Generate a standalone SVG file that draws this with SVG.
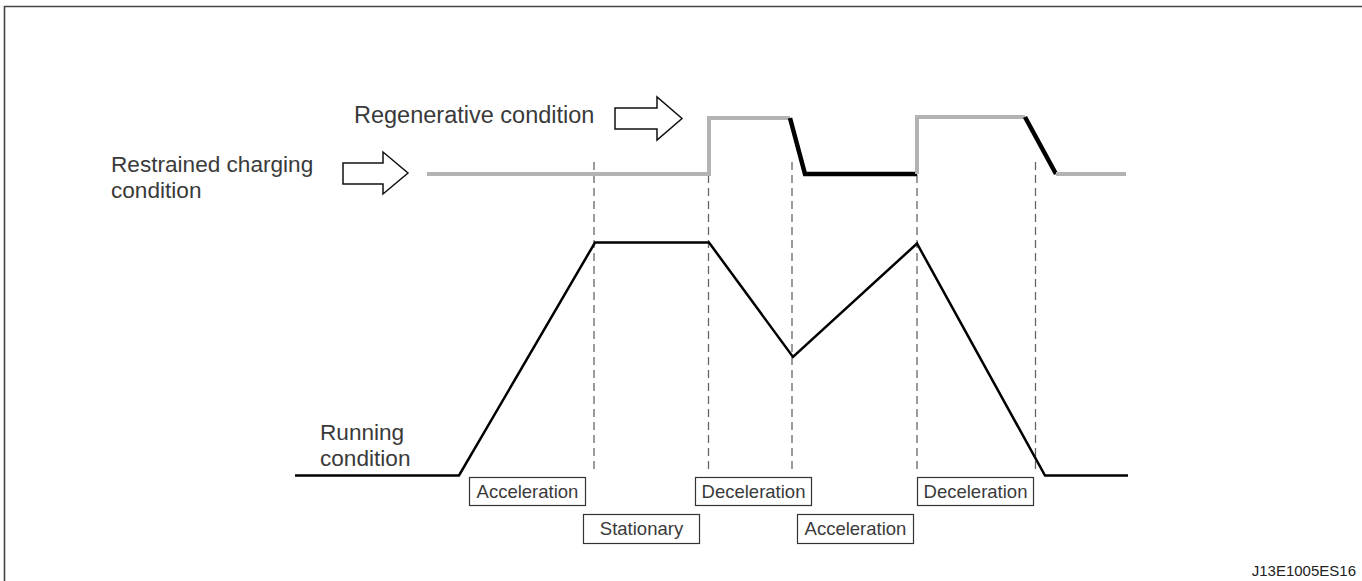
<svg xmlns="http://www.w3.org/2000/svg" width="1362" height="581" viewBox="0 0 1362 581">
<style>
.big{font-family:"Liberation Sans",Arial,sans-serif;font-size:23.5px;fill:#3a3a3a}
.two{font-family:"Liberation Sans",Arial,sans-serif;font-size:22.6px;fill:#3a3a3a}
.lbl{font-family:"Liberation Sans",Arial,sans-serif;font-size:18.5px;fill:#3a3a3a}
.box{fill:#fff;stroke:#333;stroke-width:1.2}
.arrow{fill:#fff;stroke:#111;stroke-width:1.5;stroke-linejoin:miter}
.dash{stroke:#666;stroke-width:1.3;stroke-dasharray:8 5;fill:none}
.gray{stroke:#b3b3b3;stroke-width:4;fill:none;stroke-linejoin:miter}
.blk{stroke:#000;stroke-width:4.5;fill:none}
.run{stroke:#000;stroke-width:2.5;fill:none;stroke-linejoin:miter}
</style>
<rect width="1362" height="581" fill="#fff"/>
<path d="M4.5 581 V6.5 H1362" fill="none" stroke="#444" stroke-width="1.6"/>

<g id="connectors">
  <path class="dash" d="M594 162 V473 M708.5 162 V473 M792 162 V473 M917 162 V473 M1035.5 162 V473"/>
  <path class="gray" d="M427 174 H709 V118 H790"/>
  <path class="blk" d="M790 118 L805 174 H917"/>
  <path class="gray" d="M917 174 V117 H1025"/>
  <path class="blk" d="M1025 117 L1056 174"/>
  <path class="gray" d="M1056 174 H1126"/>
  <path class="run" d="M295 475.5 H459 L595 242.5 H709 L793 357 L917 243.5 L1045 475.5 H1128"/>
</g>

<g id="restrained">
  <text class="two" x="111" y="172">Restrained charging</text>
  <text class="two" x="111" y="197.5">condition</text>
  <polygon class="arrow" points="343,163 383,163 383,152 408,173 383,194 383,184 343,184"/>
</g>
<g id="regenerative">
  <text class="big" x="354" y="123">Regenerative condition</text>
  <polygon class="arrow" points="615,108 657,108 657,97 682,118.5 657,140 657,129 615,129"/>
</g>
<g id="running">
  <text class="two" x="320" y="440">Running</text>
  <text class="two" x="320" y="465.5">condition</text>
</g>

<g id="acc1"><rect class="box" x="469.5" y="477.5" width="116" height="28"/><text class="lbl" x="527.5" y="498" text-anchor="middle">Acceleration</text></g>
<g id="stationary"><rect class="box" x="583.5" y="514.5" width="116" height="29"/><text class="lbl" x="641.5" y="535" text-anchor="middle">Stationary</text></g>
<g id="dec1"><rect class="box" x="695.5" y="477.5" width="116" height="28"/><text class="lbl" x="753.5" y="498" text-anchor="middle">Deceleration</text></g>
<g id="acc2"><rect class="box" x="797.5" y="514.5" width="116" height="29"/><text class="lbl" x="855.5" y="535" text-anchor="middle">Acceleration</text></g>
<g id="dec2"><rect class="box" x="917.5" y="477.5" width="116" height="28"/><text class="lbl" x="975.5" y="498" text-anchor="middle">Deceleration</text></g>

<text x="1356" y="576" text-anchor="end" font-family="'Liberation Sans',Arial,sans-serif" font-size="15" fill="#222">J13E1005ES16</text>
</svg>
